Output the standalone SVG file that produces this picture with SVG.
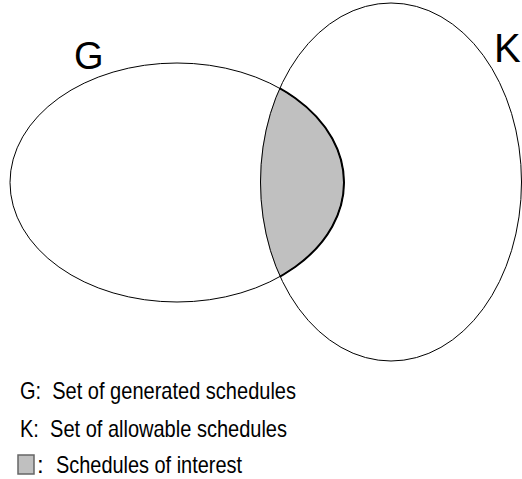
<svg xmlns="http://www.w3.org/2000/svg" width="522" height="479" viewBox="0 0 522 479">
  <style>
    .set { fill: none; stroke: #000; stroke-width: 1; }
    .label { font-family: "Liberation Sans", Arial, sans-serif; fill: #000; }
    .big { font-size: 38px; }
    .legend { font-size: 24px; }
  </style>
  <defs>
    <clipPath id="clipK">
      <ellipse cx="391" cy="182" rx="131" ry="179"/>
    </clipPath>
  </defs>
  <rect width="522" height="479" fill="#fff"/>

  <!-- overlap of G and K, outlined a little heavier -->
  <g id="intersection">
    <ellipse cx="177" cy="182.5" rx="167" ry="119.5" fill="#c0c0c0" stroke="#000" stroke-width="2" clip-path="url(#clipK)"/>
  </g>

  <g id="setG">
    <ellipse class="set" cx="177" cy="182.5" rx="167" ry="119.5"/>
    <text class="label big" x="74" y="69">G</text>
  </g>

  <g id="setK">
    <ellipse class="set" cx="391" cy="182" rx="130.5" ry="179"/>
    <text class="label" x="494" y="62" font-size="40">K</text>
  </g>

  <g id="legend">
    <text class="label legend" x="20" y="399" textLength="276" lengthAdjust="spacingAndGlyphs" xml:space="preserve">G:  Set of generated schedules</text>
    <text class="label legend" x="20" y="437" textLength="267" lengthAdjust="spacingAndGlyphs" xml:space="preserve">K:  Set of allowable schedules</text>
    <rect x="18" y="455" width="16" height="19" fill="#c0c0c0" stroke="#666" stroke-width="1.5"/>
    <text class="label legend" x="37" y="473">:</text>
    <text class="label legend" x="56" y="473" textLength="186" lengthAdjust="spacingAndGlyphs">Schedules of interest</text>
  </g>
</svg>
